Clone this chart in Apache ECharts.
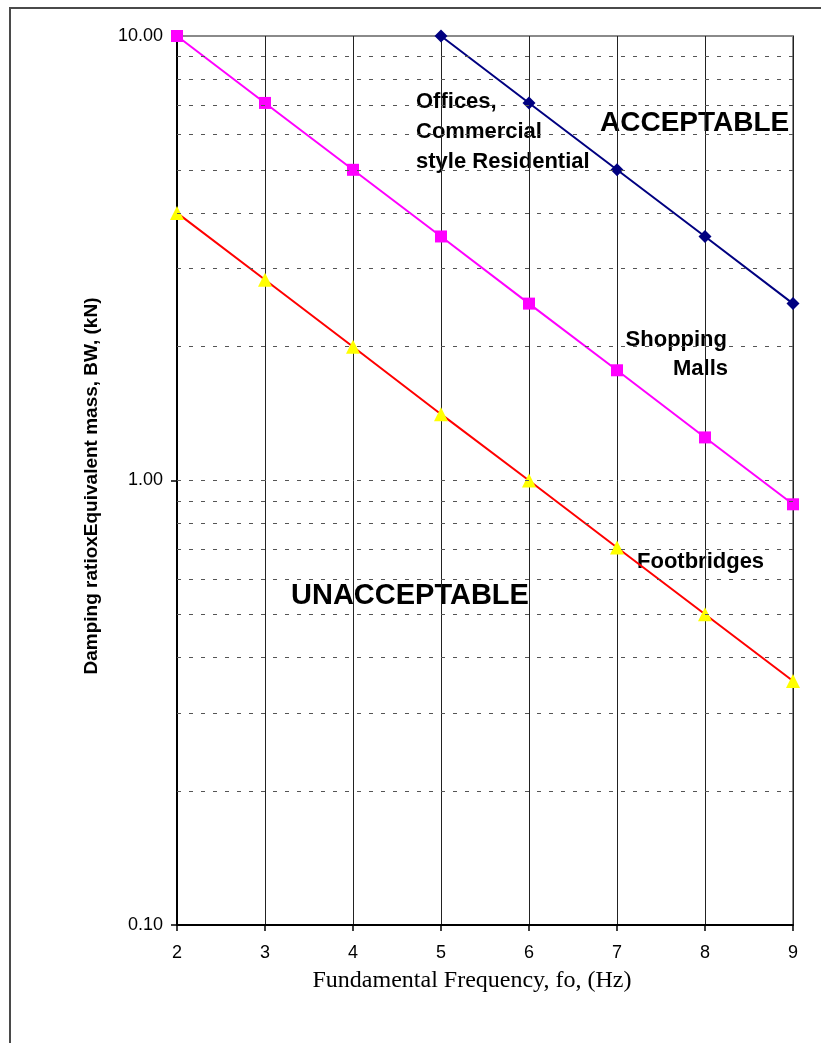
<!DOCTYPE html>
<html>
<head>
<meta charset="utf-8">
<title>Damping x Equivalent mass vs Fundamental Frequency</title>
<script src="https://cdn.jsdelivr.net/npm/echarts@6/dist/echarts.min.js"></script>
<style>
  html, body { margin: 0; padding: 0; background: #ffffff; }
  #chart { width: 821px; height: 1043px; }
</style>
</head>
<body>
<div id="chart"></div>
<script>
// Fundamental frequency (Hz) on the x axis
var freq = [2, 3, 4, 5, 6, 7, 8, 9];
var officesFreq = [5, 6, 7, 8, 9];

// Damping ratio x equivalent mass (kN) limits for each floor use
var officesBW = [10.0, 7.07, 5.0, 3.54, 2.5];
var mallsBW = [10.0, 7.07, 5.0, 3.54, 2.5, 1.77, 1.25, 0.884];
var footbridgesBW = [4.0, 2.83, 2.0, 1.41, 1.0, 0.707, 0.5, 0.354];

// Log-axis range and the dotted gridline levels
var yMin = 0.1, yMax = 10;
var gridLevels = [0.2, 0.3, 0.4, 0.5, 0.6, 0.7, 0.8, 0.9, 1, 2, 3, 4, 5, 6, 7, 8, 9];

function pairs(xs, ys) {
  return ys.map(function (v, i) { return [xs[i], v]; });
}

var chart = echarts.init(document.getElementById('chart'), null, { renderer: 'canvas' });

var labelFont = 'Liberation Sans, Arial, sans-serif';

var option = {
  backgroundColor: '#ffffff',
  animation: false,
  grid: {
    left: 177, right: 28, top: 36, bottom: 118,
    show: true, borderColor: '#8a8a8a', borderWidth: 2, backgroundColor: 'transparent'
  },
  xAxis: {
    type: 'value', min: 2, max: 9, interval: 1,
    axisLine: { show: true, lineStyle: { color: '#000', width: 2 } },
    axisTick: { show: true, length: 6, lineStyle: { color: '#000', width: 1.5 } },
    axisLabel: { color: '#000', fontFamily: labelFont, fontSize: 18, margin: 19 },
    splitLine: { show: true, lineStyle: { color: '#222', width: 1 } }
  },
  yAxis: {
    type: 'log', logBase: 10, min: yMin, max: yMax,
    axisLine: { show: true, lineStyle: { color: '#000', width: 2 } },
    axisTick: { show: true, inside: false, length: 6, lineStyle: { color: '#000', width: 1.5 } },
    axisLabel: {
      color: '#000', fontFamily: labelFont, fontSize: 18, margin: 14,
      formatter: function (v) { return Number(v).toFixed(2); }
    },
    splitLine: { show: false },
    minorTick: { show: false }
  },
  series: [
    {
      name: 'grid',
      type: 'line',
      data: [],
      silent: true,
      markLine: {
        silent: true,
        symbol: 'none',
        label: { show: false },
        lineStyle: { color: '#555', width: 1, type: [4, 8] },
        data: gridLevels.map(function (v) { return { yAxis: v }; })
      }
    },
    {
      name: 'Offices, Commercial style Residential',
      type: 'line',
      data: pairs(officesFreq, officesBW),
      symbol: 'diamond', symbolSize: 13,
      lineStyle: { color: '#000080', width: 2 },
      itemStyle: { color: '#000080' }
    },
    {
      name: 'Shopping Malls',
      type: 'line',
      data: pairs(freq, mallsBW),
      symbol: 'rect', symbolSize: 12,
      lineStyle: { color: '#ff00ff', width: 2 },
      itemStyle: { color: '#ff00ff' }
    },
    {
      name: 'Footbridges',
      type: 'line',
      data: pairs(freq, footbridgesBW),
      symbol: 'triangle', symbolSize: 14,
      lineStyle: { color: '#ff0000', width: 2 },
      itemStyle: { color: '#ffff00' }
    }
  ],
  graphic: [
    // outer chart frame
    {
      type: 'rect', shape: { x: 10, y: 8, width: 830, height: 1060 },
      style: { fill: 'none', stroke: '#4a4a4a', lineWidth: 2 }, z: -1, silent: true
    },
    // axis titles
    {
      type: 'text', x: 472, y: 981,
      style: {
        text: 'Fundamental Frequency, fo, (Hz)', fill: '#000',
        font: '24px "Liberation Serif", "Times New Roman", serif',
        textAlign: 'center', textVerticalAlign: 'middle'
      }
    },
    {
      type: 'text', x: 92, y: 486, rotation: Math.PI / 2,
      style: {
        text: 'Damping ratioxEquivalent mass, BW, (kN)', fill: '#000',
        font: 'bold 19px ' + labelFont,
        textAlign: 'center', textVerticalAlign: 'middle'
      }
    },
    // region and curve annotations
    {
      type: 'text', x: 416, y: 102,
      style: { text: 'Offices,', fill: '#000', font: 'bold 22px ' + labelFont, textAlign: 'left', textVerticalAlign: 'middle' }
    },
    {
      type: 'text', x: 416, y: 132,
      style: { text: 'Commercial', fill: '#000', font: 'bold 22px ' + labelFont, textAlign: 'left', textVerticalAlign: 'middle' }
    },
    {
      type: 'text', x: 416, y: 162,
      style: { text: 'style Residential', fill: '#000', font: 'bold 22px ' + labelFont, textAlign: 'left', textVerticalAlign: 'middle' }
    },
    {
      type: 'text', x: 600, y: 123,
      style: { text: 'ACCEPTABLE', fill: '#000', font: 'bold 28px ' + labelFont, textAlign: 'left', textVerticalAlign: 'middle' }
    },
    {
      type: 'text', x: 727, y: 340,
      style: { text: 'Shopping', fill: '#000', font: 'bold 22px ' + labelFont, textAlign: 'right', textVerticalAlign: 'middle' }
    },
    {
      type: 'text', x: 728, y: 369,
      style: { text: 'Malls', fill: '#000', font: 'bold 22px ' + labelFont, textAlign: 'right', textVerticalAlign: 'middle' }
    },
    {
      type: 'text', x: 637, y: 562,
      style: { text: 'Footbridges', fill: '#000', font: 'bold 22px ' + labelFont, textAlign: 'left', textVerticalAlign: 'middle' }
    },
    {
      type: 'text', x: 291, y: 596,
      style: { text: 'UNACCEPTABLE', fill: '#000', font: 'bold 29px ' + labelFont, textAlign: 'left', textVerticalAlign: 'middle' }
    }
  ]
};

chart.setOption(option);
</script>
</body>
</html>
